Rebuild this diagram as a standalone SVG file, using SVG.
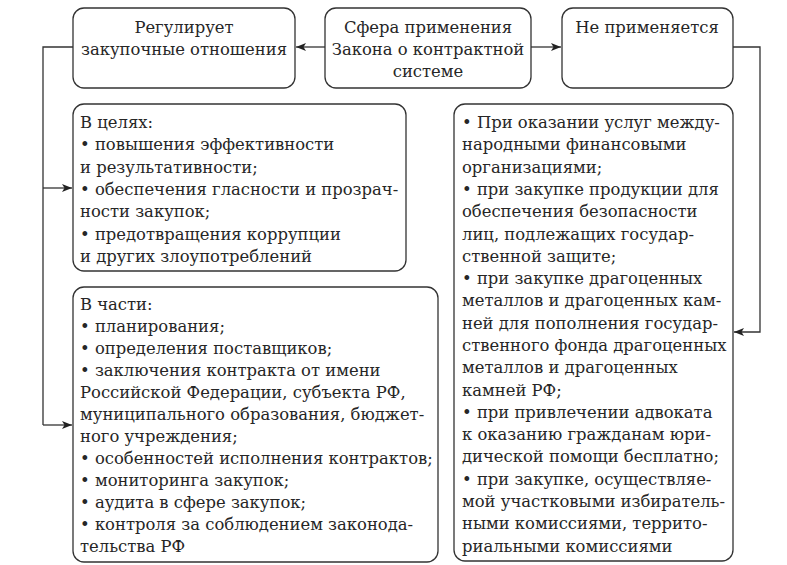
<svg xmlns="http://www.w3.org/2000/svg" width="787" height="565" viewBox="0 0 787 565">
<style>
.box{fill:#fff;stroke:#333;stroke-width:1.3}
.t{font-family:'DejaVu Serif',serif;font-size:16.4px;fill:#262626}
.c{text-anchor:middle}
.ln{fill:none;stroke:#333;stroke-width:1.3}
</style>
<defs>
<marker id="ah" viewBox="0 0 10 8" refX="10" refY="4" markerWidth="10" markerHeight="8" markerUnits="userSpaceOnUse" orient="auto">
<path d="M0,0 L10,4 L0,8 L2.5,4 Z" fill="#222"/>
</marker>
</defs>
<rect width="787" height="565" fill="#fff"/>
<g id="connectors">
<line class="ln" x1="325" y1="47" x2="296" y2="47" marker-end="url(#ah)"/>
<line class="ln" x1="531" y1="47" x2="561" y2="47" marker-end="url(#ah)"/>
<polyline class="ln" points="73,47 43,47 43,425"/>
<line class="ln" x1="43" y1="188" x2="72" y2="188" marker-end="url(#ah)"/>
<line class="ln" x1="43" y1="425" x2="72" y2="425" marker-end="url(#ah)"/>
<polyline class="ln" points="733,47 760,47 760,332 734,332" marker-end="url(#ah)"/>
</g>
<g id="node-reg">
<rect class="box" x="73" y="8" width="222" height="80" rx="11"/>
<text class="t c" x="184" y="33">Регулирует</text>
<text class="t c" x="184" y="55">закупочные отношения</text>
</g>
<g id="node-sfera">
<rect class="box" x="325" y="8" width="206" height="80" rx="11"/>
<text class="t c" x="428" y="33">Сфера применения</text>
<text class="t c" x="428" y="55">Закона о контрактной</text>
<text class="t c" x="428" y="77">системе</text>
</g>
<g id="node-ne">
<rect class="box" x="562" y="8" width="171" height="80" rx="11"/>
<text class="t c" x="647" y="33">Не применяется</text>
</g>
<g id="node-celi">
<rect class="box" x="73" y="104" width="333" height="167" rx="11"/>
<text class="t" x="80" y="128">
<tspan x="80" dy="0">В целях:</tspan>
<tspan x="80" dy="22.3">• повышения эффективности</tspan>
<tspan x="80" dy="22.3">и результативности;</tspan>
<tspan x="80" dy="22.3">• обеспечения гласности и прозрач-</tspan>
<tspan x="80" dy="22.3">ности закупок;</tspan>
<tspan x="80" dy="22.3">• предотвращения коррупции</tspan>
<tspan x="80" dy="22.3">и других злоупотреблений</tspan>
</text>
</g>
<g id="node-chasti">
<rect class="box" x="73" y="287" width="365" height="275" rx="11"/>
<text class="t" x="80" y="310">
<tspan x="80" dy="0">В части:</tspan>
<tspan x="80" dy="22">• планирования;</tspan>
<tspan x="80" dy="22">• определения поставщиков;</tspan>
<tspan x="80" dy="22">• заключения контракта от имени</tspan>
<tspan x="80" dy="22">Российской Федерации, субъекта РФ,</tspan>
<tspan x="80" dy="22">муниципального образования, бюджет-</tspan>
<tspan x="80" dy="22">ного учреждения;</tspan>
<tspan x="80" dy="22">• особенностей исполнения контрактов;</tspan>
<tspan x="80" dy="22">• мониторинга закупок;</tspan>
<tspan x="80" dy="22">• аудита в сфере закупок;</tspan>
<tspan x="80" dy="22">• контроля за соблюдением законода-</tspan>
<tspan x="80" dy="22">тельства РФ</tspan>
</text>
</g>
<g id="node-isklyucheniya">
<rect class="box" x="454" y="104" width="279" height="457" rx="11"/>
<text class="t" x="462" y="128">
<tspan x="462" dy="0">• При оказании услуг между-</tspan>
<tspan x="462" dy="22.3">народными финансовыми</tspan>
<tspan x="462" dy="22.3">организациями;</tspan>
<tspan x="462" dy="22.3">• при закупке продукции для</tspan>
<tspan x="462" dy="22.3">обеспечения безопасности</tspan>
<tspan x="462" dy="22.3">лиц, подлежащих государ-</tspan>
<tspan x="462" dy="22.3">ственной защите;</tspan>
<tspan x="462" dy="22.3">• при закупке драгоценных</tspan>
<tspan x="462" dy="22.3">металлов и драгоценных кам-</tspan>
<tspan x="462" dy="22.3">ней для пополнения государ-</tspan>
<tspan x="462" dy="22.3">ственного фонда драгоценных</tspan>
<tspan x="462" dy="22.3">металлов и драгоценных</tspan>
<tspan x="462" dy="22.3">камней РФ;</tspan>
<tspan x="462" dy="22.3">• при привлечении адвоката</tspan>
<tspan x="462" dy="22.3">к оказанию гражданам юри-</tspan>
<tspan x="462" dy="22.3">дической помощи бесплатно;</tspan>
<tspan x="462" dy="22.3">• при закупке, осуществляе-</tspan>
<tspan x="462" dy="22.3">мой участковыми избиратель-</tspan>
<tspan x="462" dy="22.3">ными комиссиями, террито-</tspan>
<tspan x="462" dy="22.3">риальными комиссиями</tspan>
</text>
</g>
</svg>
